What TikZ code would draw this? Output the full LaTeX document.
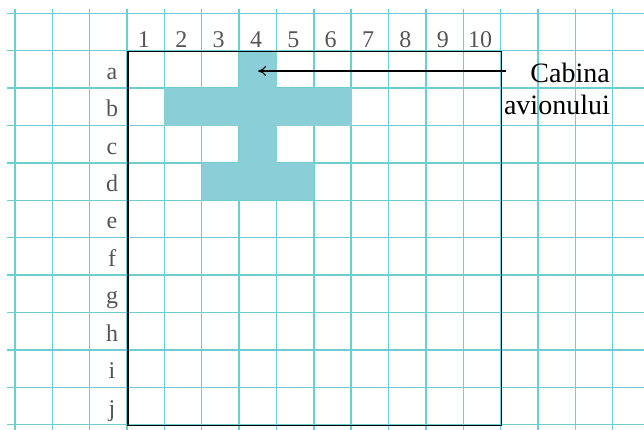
\documentclass[tikz,border=0pt]{standalone}
\usepackage{fontspec}
\setmainfont{Liberation Serif}
\usetikzlibrary{arrows.meta}
\definecolor{gridc}{RGB}{110,205,208}
\definecolor{fillc}{RGB}{138,207,215}
\definecolor{labc}{RGB}{85,85,85}
\begin{document}
\begin{tikzpicture}[x=1pt,y=-1pt,
  gridline/.style={gridc, line width=1.4pt},
  cell/.style={fill=fillc, draw=none, minimum width=37.7pt, minimum height=37.7pt, inner sep=0pt, outer sep=0pt},
  lab/.style={text=labc, font=\fontsize{24}{24}\selectfont, inner sep=0pt, anchor=base},
  boxline/.style={draw=black, line width=1.5pt},
  note/.style={font=\fontsize{28}{32}\selectfont, align=right, inner sep=0pt, anchor=base east},
  pointer/.style={line width=1.1pt, -{To[length=8pt,width=10pt]}}]
\useasboundingbox (0,0) rectangle (644,430);
% grid
\foreach \k in {0,...,16}
  \draw[gridline] ({15+37.35*\k},9) -- ({15+37.35*\k},430);
\foreach \k in {0,...,11}
  \draw[gridline] (7,{13.3+37.4*\k}) -- (644,{13.3+37.4*\k});
% shaded cells (column c, row r)
\foreach \nm/\c/\r in {a4/4/1, b2/2/2, b3/3/2, b4/4/2, b5/5/2, b6/6/2, c4/4/3, d3/3/4, d4/4/4, d5/5/4}
  \node[cell] (\nm) at ({127.3+37.35*(\c-0.5)},{50.7+37.4*(\r-0.5)}) {};
% frame
\node[boxline, minimum width=373.5pt, minimum height=374pt, inner sep=0pt, anchor=north west] (frame) at (127.3,50.7) {};
% column labels
\foreach \c in {1,...,10}
  \node[lab] (col\c) at ({127.3+37.35*(\c-0.5)-2},48) {\c};
% row labels
\foreach \l [count=\r] in {a,b,c,d,e,f,g,h,i,j}
  \node[lab] (row\l) at (112,{50.7+37.4*(\r-0.5)+10}) {\l};
% annotation
\node[note] (cab) at (610,115) {Cabina\\avionului};
\coordinate (pstart) at (506,71);
\draw[pointer] (pstart) -- (a4.center |- pstart);
\end{tikzpicture}
\end{document}
